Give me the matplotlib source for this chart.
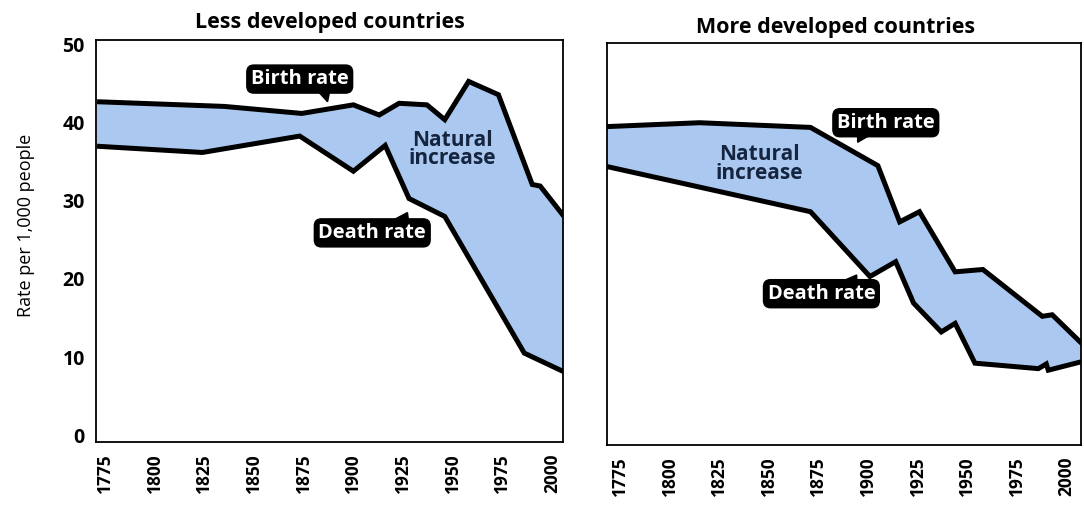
import matplotlib.pyplot as plt
import numpy as np
from matplotlib.patches import Polygon

plt.rcParams['font.family'] = ['Open Sans', 'DejaVu Sans']

# Less developed countries
less_birth_years = [1771, 1835, 1874, 1900, 1913, 1923, 1937, 1946, 1958, 1973, 1990, 1994, 2006]
less_birth_rate = [42.7, 42.1, 41.2, 42.3, 41.0, 42.5, 42.3, 40.4, 45.3, 43.6, 32.1, 31.9, 28.0]
less_death_years = [1771, 1824, 1873, 1900, 1916, 1928, 1946, 1986, 2006]
less_death_rate = [37.0, 36.2, 38.3, 33.8, 37.1, 30.3, 28.0, 10.5, 8.1]

# More developed countries
more_birth_years = [1768, 1815, 1871, 1905, 1916, 1926, 1944, 1958, 1988, 1993, 2008]
more_birth_rate = [39.9, 40.4, 39.8, 34.9, 27.7, 29.0, 21.3, 21.6, 15.6, 15.8, 12.1]
more_death_years = [1768, 1871, 1901, 1914, 1923, 1937, 1944, 1954, 1986, 1990, 1991, 2008]
more_death_rate = [34.8, 29.0, 20.7, 22.6, 17.3, 13.6, 14.7, 9.6, 8.9, 9.5, 8.7, 9.8]

tick_years = list(range(1775, 2001, 25))
tick_rates = [0, 10, 20, 30, 40, 50]

FILL = '#abc9f0'
NAVY = '#15243f'


def callout(ax, label, box_xy, pointer):
    # pointer: triangle (callout tail) in data coords, drawn under the label box
    ax.add_patch(Polygon(pointer, closed=True, fc='black', ec='black', lw=1, zorder=4))
    ax.text(box_xy[0], box_xy[1], label, color='white', fontsize=14.5, fontweight='bold',
            ha='center', va='center', zorder=5,
            bbox=dict(boxstyle='round,pad=0.2,rounding_size=0.35', fc='black', ec='black'))


def draw_panel(ax, by, br, dy, dr, xlim):
    ax.fill(np.r_[by, dy[::-1]], np.r_[br, dr[::-1]], color=FILL, lw=0)
    for x, y in [(by, br), (dy, dr)]:
        ax.plot(x, y, color='black', lw=3.6, solid_joinstyle='miter', solid_capstyle='butt')
    ax.set_xlim(*xlim)
    ax.set_ylim(-0.9, 50.6)
    ax.set_xticks(tick_years)
    ax.set_xticklabels([str(t) for t in tick_years], rotation=90, fontsize=12.5, fontweight='bold')
    ax.set_yticks(tick_rates)
    ax.tick_params(length=0, pad=8)
    for s in ax.spines.values():
        s.set_linewidth(1.3)


fig = plt.figure(figsize=(10.84, 5.07), dpi=100)
ax1 = fig.add_axes([0.0886, 0.128, 0.4308, 0.793])
ax2 = fig.add_axes([0.56, 0.122, 0.437, 0.793])

draw_panel(ax1, np.array(less_birth_years), np.array(less_birth_rate),
           np.array(less_death_years), np.array(less_death_rate), (1770.5, 2005.5))
draw_panel(ax2, np.array(more_birth_years), np.array(more_birth_rate),
           np.array(more_death_years), np.array(more_death_rate), (1768.3, 2007.4))

ax1.set_yticklabels([str(t) for t in tick_rates], fontsize=14, fontweight='bold')
ax2.set_yticklabels([])
ax1.set_ylabel('Rate per 1,000 people', fontsize=13)
ax1.yaxis.set_label_coords(-0.13, 0.54)

ax1.text(0.5, 1.018, 'Less developed countries', transform=ax1.transAxes,
         ha='center', va='bottom', fontsize=15.5, fontweight='bold')
ax2.text(0.483, 1.012, 'More developed countries', transform=ax2.transAxes,
         ha='center', va='bottom', fontsize=15.5, fontweight='bold')

ax1.text(1950, 36.6, 'Natural\nincrease', ha='center', va='center', color=NAVY,
         fontsize=15, fontweight='bold', linespacing=0.85)
ax2.text(1845, 35.1, 'Natural\nincrease', ha='center', va='center', color=NAVY,
         fontsize=15, fontweight='bold', linespacing=0.85)

callout(ax1, 'Birth rate', (1873, 45.6),
        [(1878, 45.2), (1889, 45.2), (1887, 42.7)])
callout(ax1, 'Death rate', (1909.5, 25.9),
        [(1913, 26.6), (1927.2, 28.5), (1928.2, 26.6)])
callout(ax2, 'Birth rate', (1909, 40.4),
        [(1894.8, 39.7), (1894.8, 37.9), (1907, 39.7)])
callout(ax2, 'Death rate', (1876.5, 18.5),
        [(1879, 19.2), (1894.3, 20.9), (1894.5, 19.2)])

fig.savefig('out.png', dpi=100)
